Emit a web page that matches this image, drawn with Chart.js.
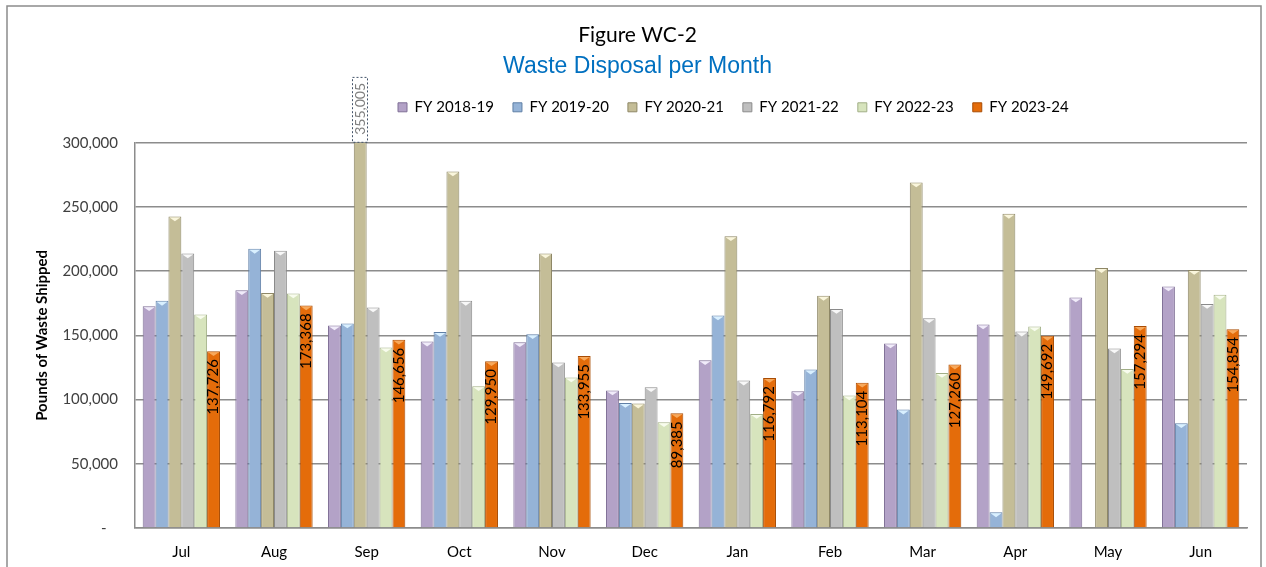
<!DOCTYPE html>
<html>
<head>
<meta charset="utf-8">
<title>Waste Disposal per Month</title>
<script src="https://cdn.jsdelivr.net/npm/chart.js@4.4.0/dist/chart.umd.min.js"></script>
<style>
  html, body { margin: 0; padding: 0; background: #fff; }
</style>
</head>
<body>
<canvas id="myChart" width="1266" height="567"></canvas>
<script>
// months of the fiscal year
const months = ['Jul', 'Aug', 'Sep', 'Oct', 'Nov', 'Dec', 'Jan', 'Feb', 'Mar', 'Apr', 'May', 'Jun'];

// pounds of waste shipped per fiscal year
const fy1819 = [172700, 185200, 157700, 145200, 144700, 107100, 130700, 106500, 143700, 158500, 179500, 188100];
const fy1920 = [176900, 217400, 159300, 152700, 150900, 97400, 165500, 123400, 92200, 12200, null, 81600];
const fy2021 = [242600, 183100, 355005, 277700, 213800, 96900, 227300, 180800, 269100, 244700, 202400, 201000];
const fy2122 = [213800, 215900, 171700, 176900, 128900, 109600, 114800, 170600, 163400, 153000, 139800, 174500];
const fy2223 = [166300, 182600, 140600, 110400, 117200, 82400, 88800, 103200, 120800, 156900, 123900, 181600];
const fy2324 = [137726, 173368, 146656, 129950, 133955, 89385, 116792, 113104, 127260, 149692, 157294, 154854];

const seriesNames = ['FY 2018-19', 'FY 2019-20', 'FY 2020-21', 'FY 2021-22', 'FY 2022-23', 'FY 2023-24'];
const yTicks = [0, 50000, 100000, 150000, 200000, 250000, 300000];

const fills = ['#B3A2C7', '#95B3D7', '#C4BD97', '#BFBFBF', '#D7E4BD', '#E46C0A'];
const edges = ['#7F6F96', '#5F7FA6', '#8E8766', '#8A8A8A', '#A1AE86', '#A84C04'];
const caps = ['#F1ECFA', '#D9F0FF', '#FAF6DC', '#F8F8F8', '#F8FCEE', '#F7A95C'];

Chart.defaults.font.family = 'Lato';
Chart.defaults.color = '#000';

// excel-like pointed cap at the top of each bar
const capPlugin = {
    id: 'caps',
    afterDatasetsDraw(chart) {
        const ctx = chart.ctx;
        const area = chart.chartArea;
        chart.data.datasets.forEach((ds, di) => {
            chart.getDatasetMeta(di).data.forEach((bar, i) => {
                if (ds.data[i] == null || bar.y < area.top) return;
                const half = bar.width / 2;
                ctx.save();
                ctx.fillStyle = caps[di];
                ctx.beginPath();
                ctx.moveTo(bar.x - half + 1, bar.y + 1);
                ctx.lineTo(bar.x + half - 1, bar.y + 1);
                ctx.lineTo(bar.x, bar.y + half * 0.75);
                ctx.closePath();
                ctx.fill();
                ctx.restore();
            });
        });
    }
};

// value labels on the FY 2023-24 bars and the clipped Sep bar
const labelPlugin = {
    id: 'labels',
    afterDatasetsDraw(chart) {
        const ctx = chart.ctx;
        const area = chart.chartArea;
        const fmt = v => v.toLocaleString('en-US');
        ctx.save();
        ctx.textBaseline = 'middle';
        ctx.font = '15px Lato';
        chart.getDatasetMeta(5).data.forEach((bar, i) => {
            ctx.save();
            ctx.translate(bar.x, bar.y + 8);
            ctx.rotate(-Math.PI / 2);
            ctx.textAlign = 'right';
            ctx.fillStyle = '#000';
            ctx.fillText(fmt(fy2324[i]), 0, 0);
            ctx.restore();
        });
        // the off-scale bar gets its label above the plot
        ctx.font = '14px Lato';
        chart.getDatasetMeta(2).data.forEach((bar, i) => {
            if (fy2021[i] <= yTicks[yTicks.length - 1]) return;
            const w = ctx.measureText(fmt(fy2021[i])).width;
            ctx.save();
            ctx.strokeStyle = '#44546A';
            ctx.lineWidth = 1;
            ctx.setLineDash([2, 2]);
            ctx.strokeRect(Math.round(bar.x - 8) + 0.5, area.top - w - 14 + 0.5, 15, w + 13);
            ctx.translate(bar.x, area.top - 8);
            ctx.rotate(-Math.PI / 2);
            ctx.textAlign = 'left';
            ctx.fillStyle = '#7F7F7F';
            ctx.fillText(fmt(fy2021[i]), 0, 0);
            ctx.restore();
        });
        ctx.restore();
    }
};

// outer frame, plus nudging the title blocks and legend to where the original has them
const framePlugin = {
    id: 'frame',
    afterLayout(chart) {
        chart.boxes.forEach(box => {
            if (box === chart.legend) {
                const shift = 398 - 19 - box.left;
                box.left += shift;
                box.right += shift;
                box.top -= 18;
                box.bottom -= 18;
            } else if (box.position === 'top') {
                box.left += 11;
                box.right += 11;
            }
        });
    },
    afterDraw(chart) {
        const ctx = chart.ctx;
        ctx.save();
        ctx.strokeStyle = '#8C8C8C';
        ctx.lineWidth = 1.5;
        ctx.strokeRect(7, 6, 1254, 620);
        ctx.restore();
    }
};

const datasets = [fy1819, fy1920, fy2021, fy2122, fy2223, fy2324].map((vals, i) => ({
    label: seriesNames[i],
    data: vals,
    backgroundColor: fills[i],
    borderColor: edges[i],
    borderWidth: 1,
    borderSkipped: 'bottom',
    categoryPercentage: 0.834,
    barPercentage: 1
}));

const ctx = document.getElementById('myChart').getContext('2d');
const myChart = new Chart(ctx, {
    type: 'bar',
    data: { labels: months, datasets: datasets },
    options: {
        responsive: false,
        animation: false,
        layout: { padding: { left: 6, right: 19, top: 6, bottom: 0 } },
        plugins: {
            title: {
                display: true,
                text: 'Figure WC-2',
                color: '#000',
                font: { size: 21, weight: 'normal' },
                padding: { top: 17, bottom: 2 }
            },
            subtitle: {
                display: true,
                text: 'Waste Disposal per Month',
                color: '#0070C0',
                font: { family: "'Liberation Sans Narrow', 'Liberation Sans', Arial, sans-serif", size: 23 },
                padding: { top: 3, bottom: 18 }
            },
            legend: {
                align: 'start',
                labels: {
                    boxWidth: 9,
                    boxHeight: 9,
                    padding: 19,
                    font: { size: 15 },
                    color: '#000'
                }
            },
            tooltip: { enabled: false }
        },
        scales: {
            x: {
                grid: { display: false },
                border: { color: '#8C8C8C', width: 1.5 },
                ticks: { font: { size: 15 }, padding: 7, color: '#000' },
                afterFit(scale) { scale.height = 39; }
            },
            y: {
                min: 0,
                max: 300000,
                afterBuildTicks(scale) { scale.ticks = yTicks.map(v => ({ value: v })); },
                grid: { color: '#8C8C8C', lineWidth: 1.5, drawTicks: false },
                border: { color: '#8C8C8C', width: 1.5 },
                ticks: {
                    font: { size: 15 },
                    color: '#404040',
                    padding: 17,
                    callback: v => v === 0 ? '-   ' : v.toLocaleString('en-US')
                },
                title: {
                    display: true,
                    text: 'Pounds of Waste Shipped',
                    color: '#000',
                    font: { size: 15, weight: 'bold' },
                    padding: { top: 27, bottom: 0 }
                },
                afterFit(scale) { scale.width = 129; }
            }
        }
    },
    plugins: [capPlugin, labelPlugin, framePlugin]
});
</script>
</body>
</html>
